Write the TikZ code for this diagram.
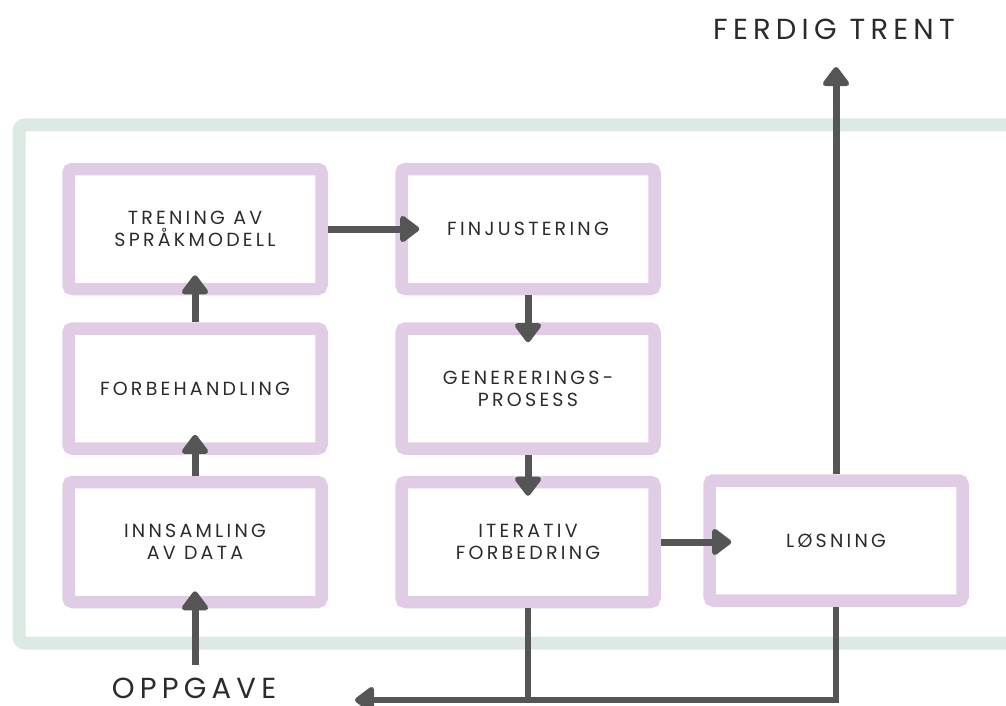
\documentclass[tikz,border=0pt]{standalone}
\usepackage{fontspec}
\setmainfont{Poppins}
\newfontfamily\labelfont[LetterSpace=17]{Poppins}
\newfontfamily\endfont[LetterSpace=18]{Poppins}
\usetikzlibrary{arrows.meta}

\definecolor{boxpurple}{HTML}{E1CCE5}
\definecolor{framegreen}{HTML}{DCEAE3}
\definecolor{linegray}{HTML}{555555}
\definecolor{textgray}{HTML}{2B2B2B}

\tikzset{
  stepbox/.style={draw=boxpurple, line width=12.5pt, rounded corners=4pt,
    minimum width=253pt, minimum height=120pt, inner sep=0pt, align=center,
    text=textgray, font=\labelfont\fontsize{19}{22}\selectfont},
  flow/.style={draw=linegray, line width=7pt,
    -{Triangle[length=21pt,width=30pt,round]}, shorten >=-20pt},
  wire/.style={draw=linegray, line width=6.5pt},
  endlabel/.style={text=textgray, inner sep=0pt,
    font=\endfont\fontsize{29}{36}\selectfont}
}

\begin{document}
\begin{tikzpicture}[x=1pt,y=-1pt]
    \useasboundingbox (0,0) rectangle (1006,706);

    % frame
    \draw[framegreen, line width=13pt, rounded corners=6pt]
        (1030,125) -- (19,125) -- (19,643) -- (1030,643);

    % steps
    \node[stepbox] (innsamling) at (195,542) {INNSAMLING\\AV DATA};
    \node[stepbox] (forbehandling) at (195,388.5) {FORBEHANDLING};
    \node[stepbox] (trening) at (195,229) {TRENING AV\\SPRÅKMODELL};
    \node[stepbox] (finjustering) at (528,229) {FINJUSTERING};
    \node[stepbox] (generering) at (528,388.5) {GENERERINGS-\\PROSESS};
    \node[stepbox] (iterativ) at (528,542) {ITERATIV\\FORBEDRING};
    \node[stepbox] (losning) at (836,540.5) {LØSNING};

    \node[endlabel] (ferdig) at (834,29) {FERDIG TRENT};
    \node[endlabel] (oppgave) at (194,688) {OPPGAVE};

    \coordinate (done) at (836,67);
    \coordinate (taskin) at (195,665);
    \coordinate (corner) at (836,700);
    \coordinate (back) at (355,700);

    % arrows
    \draw[flow, shorten >=-17pt] (taskin) -- (innsamling.south);
    \draw[flow] (innsamling.north) -- (forbehandling.south);
    \draw[flow] (forbehandling.north) -- (trening.south);
    \draw[flow, shorten >=-24pt] (trening.east) -- (finjustering.west);
    \draw[flow] (finjustering.south) -- (generering.north);
    \draw[flow] (generering.south) -- (iterativ.north);
    \draw[flow, shorten >=-28pt] (iterativ.east) -- (iterativ.east -| losning.west);
    \draw[flow, shorten >=0pt] (losning.north) -- (done);

    \draw[wire] (iterativ.south) -- (iterativ.south |- corner);
    \draw[wire, -{Triangle[length=21pt,width=30pt,round]}]
        (losning.south) -- (corner) -- (back);
\end{tikzpicture}
\end{document}
